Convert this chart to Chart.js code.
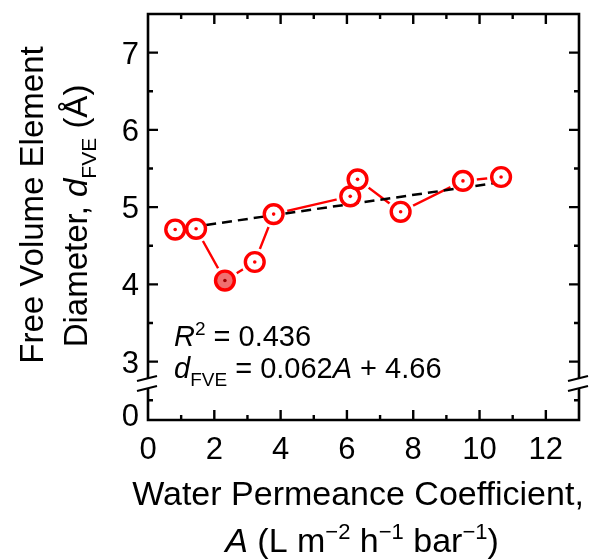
<!DOCTYPE html>
<html>
<head>
<meta charset="utf-8">
<script src="https://cdn.jsdelivr.net/npm/chart.js@4.4.0/dist/chart.umd.min.js"></script>
<style>
    body { margin: 0; background: #ffffff; }
</style>
</head>
<body>
<canvas id="fveChart" width="593" height="559"></canvas>
<script>
"use strict"

// données
const permeance = [0.82, 1.45, 2.32, 3.22, 3.79, 6.10, 6.32, 7.62, 9.50, 10.65];
const diameter = [4.71, 4.72, 4.05, 4.29, 4.91, 5.14, 5.36, 4.94, 5.34, 5.39];
const filledIndex = 2;

// droite de régression (extrémités)
const fitA = [0.8, 10.6];
const fitD = [4.71, 5.32];

// axes
const xMin = 0, xMax = 13;
const yMin = 2.245, yMax = 7.5;   // axe coupé : le bas vaut "0"
const yBreak = 2.72;
const xMajorTicks = [2, 4, 6, 8, 10, 12];
const xMinorTicks = [1, 3, 5, 7, 9, 11];
const xTickLabels = ['0', '2', '4', '6', '8', '10', '12'];
const xLabelValues = [0, 2, 4, 6, 8, 10, 12];
const yMajorTicks = [3, 4, 5, 6, 7];
const yMinorTicks = [2.5, 3.5, 4.5, 5.5, 6.5];
const yTickLabels = ['3', '4', '5', '6', '7'];
const yBottomLabel = '0';

const FONT = '"Liberation Sans", Arial, sans-serif';

function fontFor(p, size) {
    const s = (p.sub || p.sup) ? Math.round(size * 0.65) : size;
    return (p.it ? 'italic ' : '') + s + 'px ' + FONT;
}

function drawRich(ctx, parts, x, y, size, align) {
    let w = 0;
    parts.forEach(p => { ctx.font = fontFor(p, size); w += ctx.measureText(p.t).width; });
    let cx = align === 'center' ? x - w / 2 : x;
    parts.forEach(p => {
        ctx.font = fontFor(p, size);
        const dy = p.sub ? size * 0.28 : (p.sup ? -size * 0.38 : 0);
        ctx.fillText(p.t, cx, y + dy);
        cx += ctx.measureText(p.t).width;
    });
}

const framePlugin = {
    id: 'frame',
    afterDraw(chart) {
        const ctx = chart.ctx;
        const area = chart.chartArea;
        const xs = chart.scales.x;
        const ys = chart.scales.y;
        const L = area.left, R = area.right, T = area.top, B = area.bottom;
        const yb = ys.getPixelForValue(yBreak);

        ctx.save();
        ctx.strokeStyle = '#000';
        ctx.fillStyle = '#000';
        ctx.lineWidth = 2.6;
        ctx.lineCap = 'butt';

        // cadre avec coupure gauche/droite
        ctx.beginPath();
        ctx.moveTo(L, yb - 5); ctx.lineTo(L, T); ctx.lineTo(R, T); ctx.lineTo(R, yb - 5);
        ctx.moveTo(L, yb + 5); ctx.lineTo(L, B); ctx.lineTo(R, B); ctx.lineTo(R, yb + 5);
        ctx.stroke();

        // marques de coupure
        ctx.lineWidth = 2.2;
        [L, R].forEach(x0 => {
            [-5, 5].forEach(off => {
                ctx.beginPath();
                ctx.moveTo(x0 - 11, yb + off + 2.75);
                ctx.lineTo(x0 + 9, yb + off - 2.25);
                ctx.stroke();
            });
        });

        // graduations vers l'intérieur
        ctx.lineWidth = 2.4;
        const major = 10, minor = 5;
        function xTick(v, len) {
            const px = xs.getPixelForValue(v);
            ctx.beginPath();
            ctx.moveTo(px, B); ctx.lineTo(px, B - len);
            ctx.moveTo(px, T); ctx.lineTo(px, T + len);
            ctx.stroke();
        }
        function yTick(v, len) {
            const py = ys.getPixelForValue(v);
            ctx.beginPath();
            ctx.moveTo(L, py); ctx.lineTo(L + len, py);
            ctx.moveTo(R, py); ctx.lineTo(R - len, py);
            ctx.stroke();
        }
        xMajorTicks.forEach(v => xTick(v, major));
        xMinorTicks.forEach(v => xTick(v, minor));
        yMajorTicks.forEach(v => yTick(v, major));
        yMinorTicks.forEach(v => yTick(v, minor));

        // étiquettes
        ctx.font = '31px ' + FONT;
        ctx.textBaseline = 'alphabetic';
        ctx.textAlign = 'center';
        xLabelValues.forEach((v, i) => {
            ctx.fillText(xTickLabels[i], xs.getPixelForValue(v), B + 39);
        });
        ctx.textAlign = 'right';
        yMajorTicks.forEach((v, i) => {
            ctx.fillText(yTickLabels[i], L - 9, ys.getPixelForValue(v) + 11);
        });
        ctx.fillText(yBottomLabel, L - 9, B + 6);

        // titres
        ctx.textAlign = 'left';
        drawRich(ctx, [{ t: 'Water Permeance Coefficient,' }], 358, 505, 34, 'center');
        drawRich(ctx, [
            { t: 'A', it: true }, { t: ' (L m' }, { t: '\u22122', sup: true },
            { t: ' h' }, { t: '\u22121', sup: true }, { t: ' bar' }, { t: '\u22121', sup: true }, { t: ')' }
        ], 362, 552, 34, 'center');

        ctx.save();
        ctx.translate(43, 205);
        ctx.rotate(-Math.PI / 2);
        drawRich(ctx, [{ t: 'Free Volume Element' }], 0, 0, 33, 'center');
        ctx.restore();
        ctx.save();
        ctx.translate(87, 216);
        ctx.rotate(-Math.PI / 2);
        drawRich(ctx, [
            { t: 'Diameter, ' }, { t: 'd', it: true }, { t: 'FVE', sub: true }, { t: ' (\u00c5)' }
        ], 0, 0, 33, 'center');
        ctx.restore();

        // annotation
        drawRich(ctx, [{ t: 'R', it: true }, { t: '2', sup: true }, { t: ' = 0.436' }], 174, 346, 29, 'left');
        drawRich(ctx, [{ t: 'd', it: true }, { t: 'FVE', sub: true }, { t: ' = 0.062' }, { t: 'A', it: true }, { t: ' + 4.66' }], 174, 378, 29, 'left');

        ctx.restore();
    }
};

const points = permeance.map((a, i) => ({ x: a, y: diameter[i] }));
const fitPoints = fitA.map((a, i) => ({ x: a, y: fitD[i] }));
const ringFill = permeance.map((a, i) => i === filledIndex ? '#f07070' : '#ffffff');
const dotFill = permeance.map((a, i) => i === filledIndex ? '#a00000' : '#ff0000');

const ctx = document.getElementById('fveChart').getContext('2d');
new Chart(ctx, {
    type: 'scatter',
    data: {
        datasets: [
            { data: points, showLine: false, pointRadius: 1.8, pointBorderWidth: 0, pointBackgroundColor: dotFill, order: 0 },
            { data: points, showLine: false, pointRadius: 9.4, pointBorderWidth: 3.4, pointBorderColor: '#ff0000', pointBackgroundColor: ringFill, order: 1 },
            { data: fitPoints, showLine: true, borderColor: '#000000', borderWidth: 2.5, borderDash: [10, 6], pointRadius: 0, order: 2 },
            { data: points, showLine: true, borderColor: '#ff0000', borderWidth: 2.4, pointRadius: 14, pointBorderWidth: 0, pointBackgroundColor: '#ffffff', order: 3 }
        ]
    },
    options: {
        responsive: false,
        animation: false,
        events: [],
        layout: { padding: { left: 148, top: 13, right: 11, bottom: 139 } },
        plugins: { legend: { display: false }, tooltip: { enabled: false } },
        scales: {
            x: { type: 'linear', min: xMin, max: xMax, display: false },
            y: { type: 'linear', min: yMin, max: yMax, display: false }
        }
    },
    plugins: [framePlugin]
});
</script>
</body>
</html>
